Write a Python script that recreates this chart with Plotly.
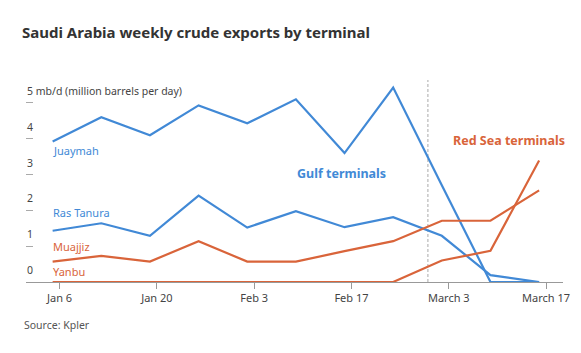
import plotly.graph_objects as go

dates = ["2026-01-05", "2026-01-12", "2026-01-19", "2026-01-26", "2026-02-02",
         "2026-02-09", "2026-02-16", "2026-02-23", "2026-03-02", "2026-03-09", "2026-03-16"]
juaymah = [3.92, 4.6, 4.1, 4.93, 4.43, 5.1, 3.6, 5.43, 2.7, 0.0, 0.0]
ras_tanura = [1.43, 1.64, 1.29, 2.41, 1.52, 1.98, 1.53, 1.81, 1.29, 0.19, 0.0]
muajjiz = [0.57, 0.73, 0.57, 1.14, 0.57, 0.57, 0.86, 1.14, 1.71, 1.71, 2.56]
yanbu = [0.0, 0.0, 0.0, 0.0, 0.0, 0.0, 0.0, 0.0, 0.6, 0.87, 3.39]

tick_dates = ["2026-01-06", "2026-01-20", "2026-02-03", "2026-02-17", "2026-03-03", "2026-03-17"]
tick_text = ["Jan 6", "Jan 20", "Feb 3", "Feb 17", "March 3", "March 17"]
y_ticks = [0, 1, 2, 3, 4, 5]
y_text = ["0", "1", "2", "3", "4", "5 mb/d (million barrels per day)"]

BLUE = "#4189d6"
ORANGE = "#d9643a"
FONT = "Noto Sans"

PLOT_TOP, PLOT_BOTTOM = 80, 282
PLOT_H = PLOT_BOTTOM - PLOT_TOP
PLOT_L, PLOT_R = 26, 11


def paper_y(px):
    return (PLOT_BOTTOM - px) / PLOT_H


def paper_x(px):
    return (px - PLOT_L) / (581 - PLOT_L - PLOT_R)


fig = go.Figure()
for name, vals, col in [("Juaymah", juaymah, BLUE), ("Ras Tanura", ras_tanura, BLUE),
                        ("Muajjiz", muajjiz, ORANGE), ("Yanbu", yanbu, ORANGE)]:
    fig.add_trace(go.Scatter(x=dates, y=vals, mode="lines", name=name,
                             line=dict(color=col, width=2.2), cliponaxis=False,
                             showlegend=False))

series_labels = [("Juaymah", 3.66, BLUE), ("Ras Tanura", 1.95, BLUE),
                 ("Muajjiz", 1.0, ORANGE), ("Yanbu", 0.3, ORANGE)]
ann = []
for txt, yv, col in series_labels:
    ann.append(dict(x=dates[0], y=yv, xref="x", yref="y", text=txt, showarrow=False,
                    xanchor="left", yanchor="middle", xshift=-2,
                    font=dict(size=11, color=col, family=FONT)))

for v, t in zip(y_ticks, y_text):
    ann.append(dict(x=0, y=v, xref="paper", yref="y", text=t, showarrow=False,
                    xanchor="left", yanchor="middle", yshift=12, xshift=-1,
                    font=dict(size=10.5, color="#444", family=FONT)))

ann.append(dict(x="2026-02-15 12:00", y=3.04, xref="x", yref="y", text="<b>Gulf terminals</b>",
                showarrow=False, font=dict(size=12.5, color=BLUE, family=FONT)))
ann.append(dict(x="2026-03-11 16:00", y=3.94, xref="x", yref="y", text="<b>Red Sea terminals</b>",
                showarrow=False, font=dict(size=12.5, color=ORANGE, family=FONT)))
ann.append(dict(x="2026-02-28", y=6.17, xref="x", yref="y", text="War outbreak<br>Feb 28",
                showarrow=False, yanchor="middle", font=dict(size=11, color="#444", family=FONT)))
ann.append(dict(x=paper_x(22), y=paper_y(325), xref="paper", yref="paper", text="Source: Kpler",
                showarrow=False, xanchor="left", yanchor="middle",
                font=dict(size=10.5, color="#555", family=FONT)))

fig.add_shape(type="line", x0="2026-02-28", x1="2026-02-28", y0=0, y1=5.7, xref="x", yref="y",
              line=dict(color="#aaa", width=1, dash="3px,2px"), layer="below")

fig.update_layout(
    width=581, height=353,
    margin=dict(l=PLOT_L, r=PLOT_R, t=PLOT_TOP, b=353 - PLOT_BOTTOM),
    paper_bgcolor="white", plot_bgcolor="white",
    title=dict(text="<b>Saudi Arabia weekly crude exports by terminal</b>",
               x=22 / 581, xanchor="left", y=1 - 33 / 353, yanchor="middle",
               font=dict(size=15, color="#333", family=FONT)),
    annotations=ann,
    xaxis=dict(type="date", range=["2026-01-01 04:00", "2026-03-19 10:30"],
               tickvals=tick_dates, ticktext=tick_text, ticks="outside", ticklen=6,
               tickcolor="#999", showgrid=False, zeroline=False, showline=True,
               linecolor="#999", linewidth=1,
               tickfont=dict(size=11, color="#444", family=FONT)),
    yaxis=dict(range=[0, 5.64], tickvals=y_ticks, ticks="inside", ticklen=7,
               tickcolor="#aaa", showticklabels=False, showgrid=False, zeroline=False,
               showline=False),
)

fig.write_html("out.html")
